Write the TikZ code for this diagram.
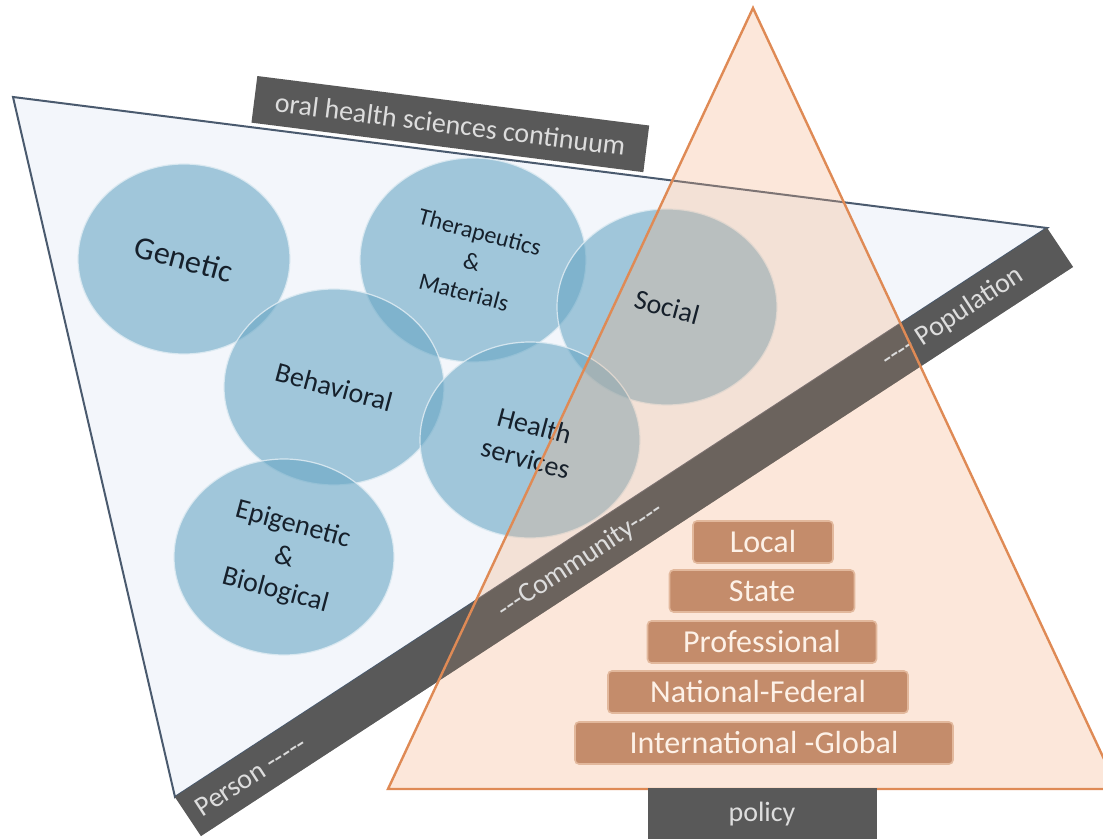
\documentclass[tikz,border=0pt]{standalone}
\usepackage{fontspec}
\setmainfont{Carlito}
\usetikzlibrary{shapes.geometric}

\definecolor{trifill}{HTML}{F3F6FB}
\definecolor{triline}{HTML}{4A5A6E}
\definecolor{bubblefill}{HTML}{69A7C5}
\definecolor{bubbleline}{HTML}{DCEAF2}
\definecolor{inktext}{HTML}{16202B}
\definecolor{peachfill}{HTML}{F4B183}
\definecolor{peachline}{HTML}{DF8A55}
\definecolor{bargray}{HTML}{595959}
\definecolor{barink}{HTML}{DDDDDD}
\definecolor{tierfill}{HTML}{C48C6B}
\definecolor{tierline}{HTML}{E2B89C}
\definecolor{tierink}{HTML}{FDF1E7}

\begin{document}
\begin{tikzpicture}[x=0.5pt, y=-0.5pt,
  bubble/.style={ellipse, fill=bubblefill, fill opacity=0.6, draw=bubbleline,
    draw opacity=0.9, line width=0.6pt, inner sep=0pt,
    minimum width=110pt, minimum height=98pt},
  bubbletext/.style={text=inktext, align=center, rotate=-15,
    font=\fontsize{14}{17}\selectfont},
  bartext/.style={text=barink, font=\fontsize{14}{17}\selectfont, sloped, inner sep=0pt},
  darkbox/.style={fill=bargray, text=barink, font=\fontsize{14}{17}\selectfont, inner sep=0pt},
  tierbox/.style={fill=tierfill, draw=tierline, line width=0.8pt, rounded corners=2pt,
    text=tierink, font=\fontsize{16}{19}\selectfont, minimum height=21pt, inner sep=0pt}]
  \clip (0,0) rectangle (1103,839);

  % sciences triangle
  \coordinate (tl) at (13,97);
  \coordinate (tr) at (1047,228);
  \coordinate (bl) at (175,797);
  \filldraw[fill=trifill, draw=triline, line width=1pt] (tl) -- (tr) -- (bl) -- cycle;

  \node[darkbox, rotate=-7.2, anchor=south west, minimum width=197.5pt, minimum height=23.5pt]
    (continuum) at (251,123) {oral health sciences continuum};

  % circles
  \node[bubble, minimum width=106pt, minimum height=95pt] (genetic) at (184,259) {};
  \node[bubble, minimum width=113pt, minimum height=102pt] (thera) at (473,260) {};
  \node[bubble] (social) at (667,307) {};
  \node[bubble] (behav) at (334,387) {};
  \node[bubble] (health) at (530,440) {};
  \node[bubble] (epi) at (284,557) {};

  \node[bubbletext, font=\fontsize{16}{19}\selectfont] at (genetic) {Genetic};
  \node[bubbletext, font=\fontsize{12}{15.5}\selectfont] at (472,262) {Therapeutics\\\&\\Materials};
  \node[bubbletext] at (behav) {Behavioral};
  \node[bubbletext] at (284,558) {Epigenetic\\\&\\Biological};

  % person - population bar
  \coordinate (barA) at (175,797);
  \coordinate (barB) at (1047,228);
  \coordinate (barC) at (1073,267);
  \coordinate (barD) at (201,836);
  \fill[bargray] (barA) -- (barB) -- (barC) -- (barD) -- cycle;

  % policy triangle
  \coordinate (apex) at (753,8);
  \coordinate (pl) at (388,789);
  \coordinate (pr) at (1118,789);
  \fill[peachfill, opacity=0.3] (apex) -- (pl) -- (pr) -- cycle;
  \fill[bargray, opacity=0.6] (barA) -- (barB) -- (barC) -- (barD) -- cycle;

  \node[bubbletext] at (social) {Social};
  \node[bubbletext] at (530,442) {Health\\services};

  \coordinate (midA) at (188,816.5);
  \coordinate (midB) at (1060,247.5);
  \path (midA) -- (midB)
    node[bartext, pos=0.072] (person) {Person -{}-{}-{}-{}-}
    node[bartext, pos=0.45] (community) {-{}-{}-Community-{}-{}-{}-}
    node[bartext, pos=0.877] (population) {-{}-{}-{}- Population};

  \draw[peachline, line width=1.2pt, line join=miter] (apex) -- (pl) -- (pr) -- cycle;

  \node[tierbox, minimum width=70pt] (local) at (763,542) {Local};
  \node[tierbox, minimum width=92.5pt] (state) at (762,591) {State};
  \node[tierbox, minimum width=114.5pt] (prof) at (762,642) {Professional};
  \node[tierbox, minimum width=150pt] (national) at (758,692) {National-Federal};
  \node[tierbox, minimum width=189pt] (intl) at (764,743) {International -Global};

  \node[darkbox, minimum width=114.5pt, minimum height=26pt] (policy) at (762,814) {policy};
\end{tikzpicture}
\end{document}
